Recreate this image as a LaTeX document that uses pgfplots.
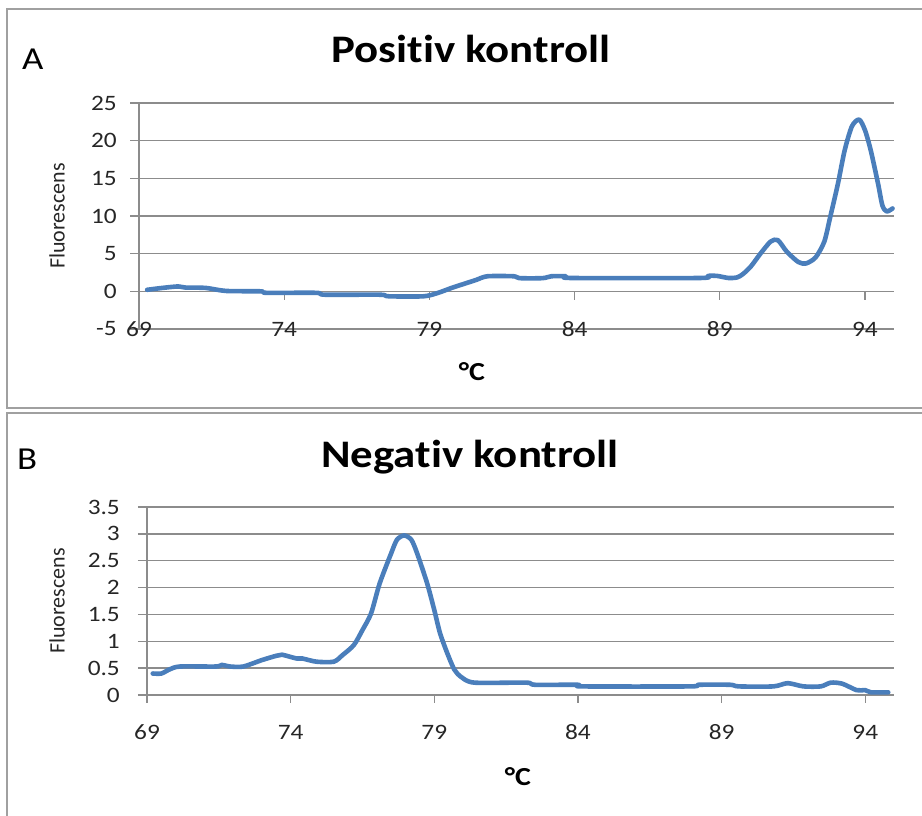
\documentclass[border=0pt]{standalone}
\usepackage{fontspec}
\setmainfont[FakeStretch=1.15, Ligatures=CommonOff]{Carlito}
\newfontfamily\plainfont[Ligatures=CommonOff]{Carlito}
\usepackage{pgfplots}
\usepackage{pgfplotstable}
\pgfplotsset{compat=1.18}

\definecolor{serie}{HTML}{4A7EBB}
\definecolor{gridgray}{HTML}{8C8C8C}
\definecolor{framegray}{HTML}{A0A0A0}
\definecolor{labelgray}{HTML}{262626}

% Melting curve, positive control
\pgfplotstableread{
T     F
69.28 0.20
69.80 0.45
70.35 0.65
70.60 0.50
71.30 0.45
72.00 0.05
73.20 0.00
73.40 -0.20
75.10 -0.20
75.40 -0.45
77.30 -0.45
77.60 -0.66
78.80 -0.66
79.30 -0.20
79.80 0.50
80.20 1.00
80.60 1.50
81.00 2.00
81.90 2.00
82.10 1.75
82.90 1.75
83.20 2.00
83.70 2.00
83.90 1.77
88.30 1.77
88.60 2.05
88.90 2.05
89.30 1.77
89.60 1.85
89.80 2.30
90.07 3.30
90.40 5.00
90.75 6.60
91.00 6.80
91.30 5.30
91.70 3.90
91.97 3.70
92.30 4.50
92.60 6.60
92.80 9.80
93.07 14.30
93.30 18.70
93.55 21.90
93.80 22.80
94.00 21.40
94.20 18.70
94.45 14.30
94.60 11.40
94.75 10.60
94.95 11.00
}\posdata

% Melting curve, negative control
\pgfplotstableread{
T     F
69.20 0.40
69.50 0.40
69.80 0.48
70.15 0.53
71.40 0.53
71.60 0.56
71.90 0.53
72.35 0.53
73.00 0.65
73.50 0.73
73.70 0.75
74.20 0.68
74.40 0.68
74.90 0.62
75.50 0.62
75.80 0.74
76.20 0.93
76.50 1.21
76.80 1.52
77.10 2.08
77.50 2.64
77.70 2.89
77.95 2.97
78.20 2.89
78.40 2.64
78.75 2.08
79.00 1.58
79.20 1.15
79.45 0.78
79.70 0.47
79.95 0.33
80.40 0.23
82.20 0.23
82.50 0.19
84.00 0.19
84.15 0.16
87.90 0.16
88.20 0.19
89.30 0.19
89.60 0.16
90.80 0.16
91.30 0.22
91.85 0.16
92.45 0.16
92.80 0.23
93.20 0.21
93.70 0.09
94.00 0.09
94.20 0.05
94.80 0.05
}\negdata

\pgfplotsset{
  meltaxis/.style={
    scale only axis, anchor=south west,
    xmin=69, xmax=95, xtick={69,74,79,84,89,94},
    axis y line*=left, axis x line*=bottom,
    x axis line style={draw=none},
    y axis line style={gridgray, line width=1.3pt},
    xtick style={draw=none},
    ytick style={gridgray, line width=1.3pt},
    tick align=outside, major tick length=9pt,
    ymajorgrids, grid style={gridgray, line width=1.3pt},
    ticklabel style={font=\fontsize{22}{24}\selectfont, text=labelgray},
    /pgf/number format/assume math mode=true,
    xticklabel style={anchor=center, inner sep=0pt},
    yticklabel style={anchor=east, inner sep=0pt},
    clip=false,
  },
  meltline/.style={serie, line width=4.6pt, smooth, tension=0.45, line join=round, line cap=round},
}

\begin{document}
\begin{tikzpicture}[x=1pt, y=1pt]
\useasboundingbox (0,0) rectangle (922,816);
\clip (0,0) rectangle (922,816);

% panel frames
\draw[framegray, line width=1.6pt] (7,408) rectangle (940,807);
\draw[framegray, line width=1.6pt] (7,-20) rectangle (940,403);

% ---------- A ----------
\node[anchor=base west, font=\fontsize{32}{34}\selectfont, inner sep=0pt] at (22,746) {A};
\node[anchor=base, font=\bfseries\fontsize{39}{44}\selectfont, inner sep=0pt] at (471,753) {Positiv kontroll};
\node[rotate=90, font=\plainfont\fontsize{22}{24}\selectfont, text=labelgray] at (57,600) {Fluorescens};
\node[font=\bfseries\fontsize{26}{28}\selectfont] at (472,444) {°C};

\begin{axis}[meltaxis, at={(139pt,487pt)}, width=755pt, height=226pt,
  ymin=-5, ymax=25, ytick={-5,0,5,10,15,20,25},
  yticklabel style={xshift=-13pt},
  xticklabel style={yshift=9pt}]
  \draw[gridgray, line width=1.3pt] (axis cs:69,0) -- (axis cs:95,0);
  \pgfplotsinvokeforeach{74,79,84,89,94}{
    \draw[gridgray, line width=1.3pt] (axis cs:#1,0) -- ++(0pt,-9pt);
  }
  \addplot[meltline] table[x=T, y=F] {\posdata};
\end{axis}

% ---------- B ----------
\node[anchor=base west, font=\fontsize{32}{34}\selectfont, inner sep=0pt] at (17,346) {B};
\node[anchor=base, font=\bfseries\fontsize{39}{44}\selectfont, inner sep=0pt] at (470,348) {Negativ kontroll};
\node[rotate=90, font=\plainfont\fontsize{22}{24}\selectfont, text=labelgray] at (57,215) {Fluorescens};
\node[font=\bfseries\fontsize{26}{28}\selectfont] at (518,39) {°C};

\begin{axis}[meltaxis, at={(147pt,121pt)}, width=747pt, height=188pt,
  ymin=0, ymax=3.5, ytick={0,0.5,1,1.5,2,2.5,3,3.5},
  yticklabel style={xshift=-18pt},
  xticklabel style={yshift=-28pt}]
  \draw[gridgray, line width=1.3pt] (axis cs:69,0) -- (axis cs:95,0);
  \pgfplotsinvokeforeach{69,74,79,84,89,94}{
    \draw[gridgray, line width=1.3pt] (axis cs:#1,0) -- ++(0pt,-8pt);
  }
  \addplot[meltline] table[x=T, y=F] {\negdata};
\end{axis}
\end{tikzpicture}
\end{document}
